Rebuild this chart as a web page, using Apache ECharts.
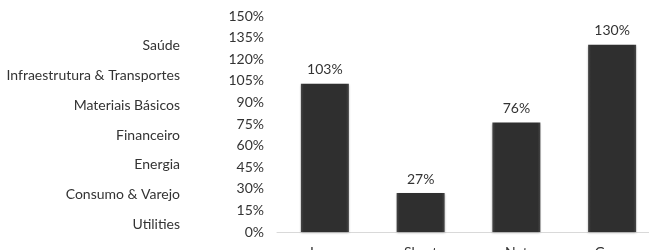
<!DOCTYPE html>
<html><head><meta charset="utf-8">
<script src="https://cdn.jsdelivr.net/npm/echarts@6/dist/echarts.min.js"></script>
<style>html,body{margin:0;padding:0;background:#fff}#c{width:649px;height:250px}</style>
</head><body><div id="c"></div>
<script>
const sectors = ['Utilities','Consumo & Varejo','Energia','Financeiro','Materiais Básicos','Infraestrutura & Transportes','Saúde'];
const sectorValues = [null,null,null,null,null,null,null];
const categories = ['Long','Short','Net','Gross'];
const exposure = [103,27,76,130];
const yTicks = {min:0,max:150,interval:15};

const font = 'Lato, "Open Sans", sans-serif';
const chart = echarts.init(document.getElementById('c'),null,{renderer:'canvas'});
chart.setOption({
  animation:false,
  grid:[
    {left:277,width:383,top:16,bottom:18,containLabel:false,outerBoundsMode:'none'},
    {left:186,width:10,top:31,height:208,containLabel:false,outerBoundsMode:'none'}
  ],
  xAxis:[
    {gridIndex:0,type:'category',data:categories,
     axisLine:{lineStyle:{color:'#d9d9d9',width:1}},axisTick:{show:false},
     axisLabel:{color:'#333',fontFamily:font,fontSize:14,margin:13}},
    {gridIndex:1,type:'value',show:false}
  ],
  yAxis:[
    {gridIndex:0,type:'value',min:yTicks.min,max:yTicks.max,interval:yTicks.interval,
     splitLine:{show:false},axisLine:{show:false},axisTick:{show:false},
     axisLabel:{color:'#333',fontFamily:font,fontSize:14,margin:13,formatter:v=>v+'%'}},
    {gridIndex:1,type:'category',data:sectors,
     axisLine:{show:false},axisTick:{show:false},
     axisLabel:{color:'#333',fontFamily:font,fontSize:14,margin:6}}
  ],
  series:[
    {type:'bar',xAxisIndex:0,yAxisIndex:0,data:exposure,barWidth:48,
     itemStyle:{
       color:{type:'linear',x:0,y:0,x2:1,y2:0,colorStops:[
         {offset:0,color:'#454545'},{offset:0.06,color:'#2f2f2f'},
         {offset:0.94,color:'#2f2f2f'},{offset:1,color:'#454545'}]},
       shadowColor:'rgba(0,0,0,0.25)',shadowBlur:2,shadowOffsetY:1},
     label:{show:true,position:'top',distance:7,color:'#333',fontFamily:font,fontSize:14,
       formatter:p=>p.value+'%'}},
    {type:'bar',xAxisIndex:1,yAxisIndex:1,data:sectorValues}
  ]
});
</script></body></html>
